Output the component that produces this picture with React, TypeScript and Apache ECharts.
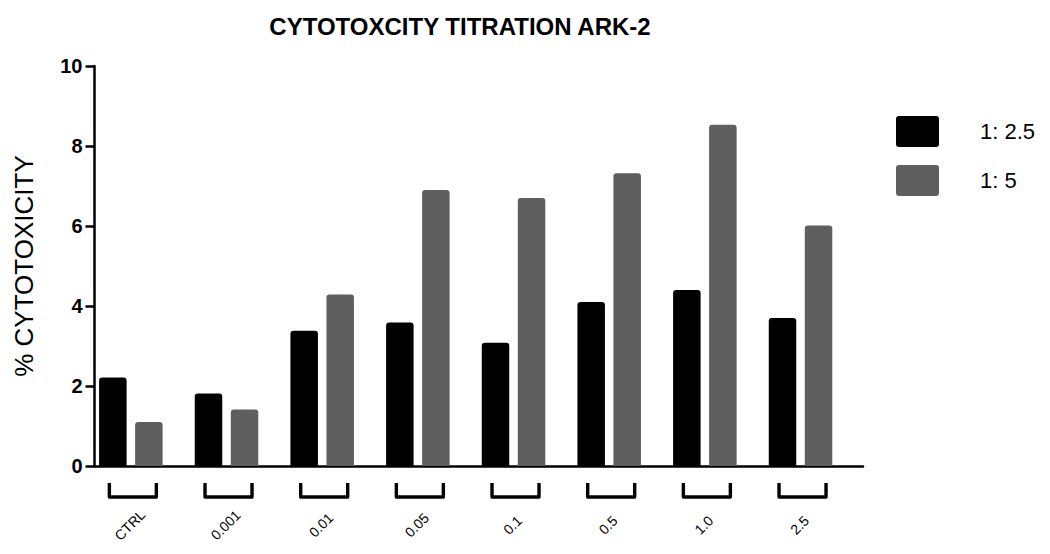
import React, { useEffect, useRef } from "react";
import * as echarts from "echarts";

const categories = ["CTRL", "0.001", "0.01", "0.05", "0.1", "0.5", "1.0", "2.5"];
const seriesNames = ["1: 2.5", "1: 5"];
const ratio25 = [2.21, 1.81, 3.38, 3.59, 3.08, 4.1, 4.4, 3.7];
const ratio5 = [1.1, 1.41, 4.29, 6.9, 6.7, 7.32, 8.53, 6.01];
const yTicks = [0, 2, 4, 6, 8, 10];

const FONT = "'Liberation Sans', Arial, Helvetica, sans-serif";
const LEGEND_ICON =
  "path://M3,0 L40,0 Q43,0 43,3 L43,28 Q43,31 40,31 L3,31 Q0,31 0,28 L0,3 Q0,0 3,0 Z";

export default function App() {
  const ref = useRef<HTMLDivElement>(null);
  useEffect(() => {
    if (!ref.current) return;
    const chart = echarts.init(ref.current, null, { renderer: "svg" });
    const option: any = {
      animation: false,
      backgroundColor: "#ffffff",
      textStyle: { fontFamily: FONT },
      grid: { left: 94.5, right: 187, top: 66, bottom: 88, containLabel: false },
      graphic: [
        {
          type: "text",
          x: 460,
          y: 26,
          style: {
            text: "CYTOTOXCITY TITRATION ARK-2",
            align: "center",
            verticalAlign: "middle",
            font: `bold 24px ${FONT}`,
            fill: "#000",
          },
        },
      ],
      legend: {
        data: seriesNames,
        orient: "vertical",
        left: 891,
        top: 111,
        itemWidth: 43,
        itemHeight: 31,
        itemGap: 18,
        icon: LEGEND_ICON,
        selectedMode: false,
        textStyle: { fontSize: 22, color: "#000", fontFamily: FONT, padding: [0, 0, 0, 36] },
      },
      xAxis: {
        type: "value",
        min: -0.38,
        max: 7.653,
        axisLine: { show: true, onZero: false, lineStyle: { color: "#000", width: 2.5 } },
        axisTick: { show: false },
        axisLabel: { show: false },
        splitLine: { show: false },
      },
      yAxis: {
        type: "value",
        min: yTicks[0],
        max: yTicks[yTicks.length - 1],
        interval: 2,
        name: "% CYTOTOXICITY",
        nameLocation: "middle",
        nameRotate: 90,
        nameGap: 58,
        nameTextStyle: { fontSize: 26, color: "#000", fontFamily: FONT },
        axisLine: { show: true, onZero: false, lineStyle: { color: "#000", width: 2.5 } },
        axisTick: { show: true, length: 9, lineStyle: { color: "#000", width: 2.5 } },
        axisLabel: { fontSize: 20, fontWeight: "bold", color: "#000", margin: 12, fontFamily: FONT },
        splitLine: { show: false },
      },
      series: [
        {
          name: seriesNames[0],
          type: "bar",
          barWidth: 27.5,
          barGap: "31%",
          itemStyle: { color: "#000000", borderRadius: [3, 3, 0, 0] },
          data: ratio25.map((v, i) => [i, v]),
        },
        {
          name: seriesNames[1],
          type: "bar",
          barWidth: 27.5,
          barGap: "31%",
          itemStyle: { color: "#5f5f5f", borderRadius: [3, 3, 0, 0] },
          data: ratio5.map((v, i) => [i, v]),
        },
        {
          name: "brackets",
          type: "custom",
          silent: true,
          clip: false,
          data: categories.map((c, i) => [i, 0]),
          renderItem: (params: any, api: any) => {
            const idx = params.dataIndex;
            const p = api.coord([api.value(0), 0]);
            const cx = p[0] + 2;
            const top = p[1] + 17;
            const bot = p[1] + 31;
            return {
              type: "group",
              children: [
                {
                  type: "polyline",
                  shape: {
                    points: [
                      [cx - 23.5, top],
                      [cx - 23.5, bot],
                      [cx + 23.5, bot],
                      [cx + 23.5, top],
                    ],
                  },
                  style: { stroke: "#000", lineWidth: 3.4, fill: "none", lineJoin: "round" },
                },
                {
                  type: "text",
                  x: p[0] - 1,
                  y: p[1] + 59,
                  rotation: Math.PI / 4,
                  style: {
                    text: categories[idx],
                    align: "center",
                    verticalAlign: "middle",
                    font: `14px ${FONT}`,
                    fill: "#000",
                  },
                },
              ],
            };
          },
        },
      ],
    };
    chart.setOption(option);
    return () => chart.dispose();
  }, []);
  return (
    <div
      ref={ref}
      style={{ position: "absolute", left: 0, top: 0, width: 1050, height: 554 }}
    />
  );
}
